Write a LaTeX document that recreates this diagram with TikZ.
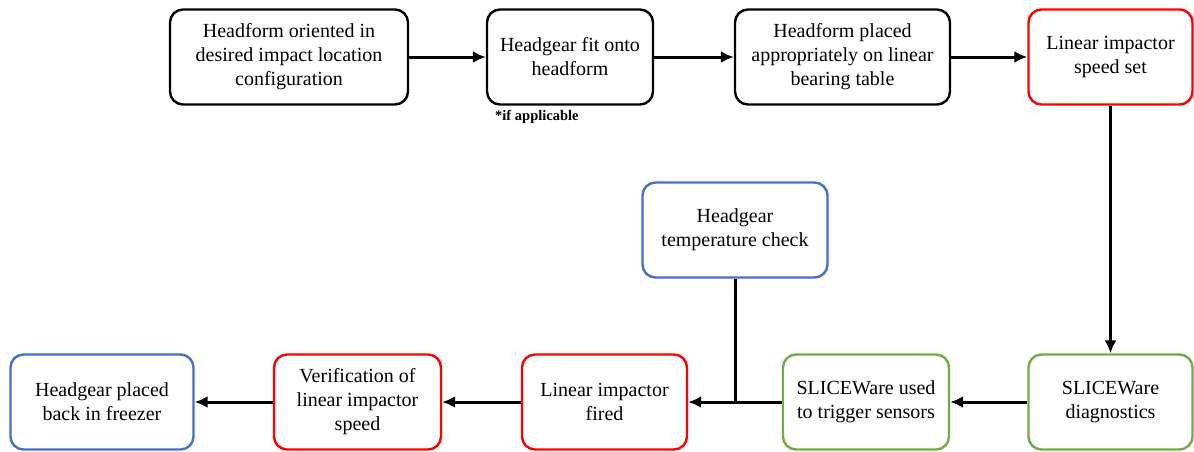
\documentclass[tikz,border=0pt]{standalone}
\usepackage{fontspec}
\setmainfont{Liberation Serif}
\usepackage{xcolor}
\usetikzlibrary{arrows, arrows.meta}

\definecolor{stepred}{RGB}{255,0,0}
\definecolor{stepgreen}{RGB}{112,173,71}
\definecolor{stepblue}{RGB}{68,114,196}

\tikzset{
  stepbox/.style={draw=black, line width=2.4pt, rounded corners=13pt,
    minimum height=95pt, align=center, inner sep=2pt,
    font=\fontsize{20}{24}\selectfont},
  redbox/.style={stepbox, draw=stepred},
  greenbox/.style={stepbox, draw=stepgreen},
  bluebox/.style={stepbox, draw=stepblue},
  flow/.style={line width=3pt, -{Latex[length=13pt,width=12pt]}}
}

\begin{document}
\begin{tikzpicture}[x=1pt,y=1pt]
    \useasboundingbox (0,0) rectangle (1194,-451);

    % top row
    \node[stepbox, minimum width=238pt] (orient) at (289,-57)
        {Headform oriented in\\desired impact location\\configuration};
    \node[stepbox, minimum width=166pt] (fit) at (570,-57)
        {Headgear fit onto\\headform};
    \node[stepbox, minimum width=215pt] (place) at (842.5,-57)
        {Headform placed\\appropriately on linear\\bearing table};
    \node[redbox, minimum width=164pt] (speed) at (1110.5,-57)
        {Linear impactor\\speed set};
    \node[anchor=west, font=\fontsize{14.5}{16}\selectfont\bfseries,
        inner sep=0pt] (note) at (495,-117) {*if applicable};

    % middle
    \node[bluebox, minimum width=185pt] (temp) at (735,-230)
        {Headgear\\temperature check};

    % bottom row
    \node[bluebox, minimum width=183pt] (freezer) at (102,-402)
        {Headgear placed\\back in freezer};
    \node[redbox, minimum width=167pt] (verify) at (357.5,-402)
        {Verification of\\linear impactor\\speed};
    \node[redbox, minimum width=165pt] (fired) at (604.5,-402)
        {Linear impactor\\fired};
    \node[greenbox, minimum width=166pt] (trigger) at (866,-402)
        {SLICEWare used\\to trigger sensors};
    \node[greenbox, minimum width=164pt] (diag) at (1110.5,-402)
        {SLICEWare\\diagnostics};

    \coordinate (join) at (temp.south |- fired.east);

    \draw[flow] (orient) -- (fit);
    \draw[flow] (fit) -- (place);
    \draw[flow] (place) -- (speed);
    \draw[flow] (speed) -- (diag);
    \draw[flow] (diag) -- (trigger);
    \draw[flow] (trigger) -- (fired);
    \draw[line width=3pt] (temp) -- (join);
    \draw[flow] (fired) -- (verify);
    \draw[flow] (verify) -- (freezer);
\end{tikzpicture}
\end{document}
